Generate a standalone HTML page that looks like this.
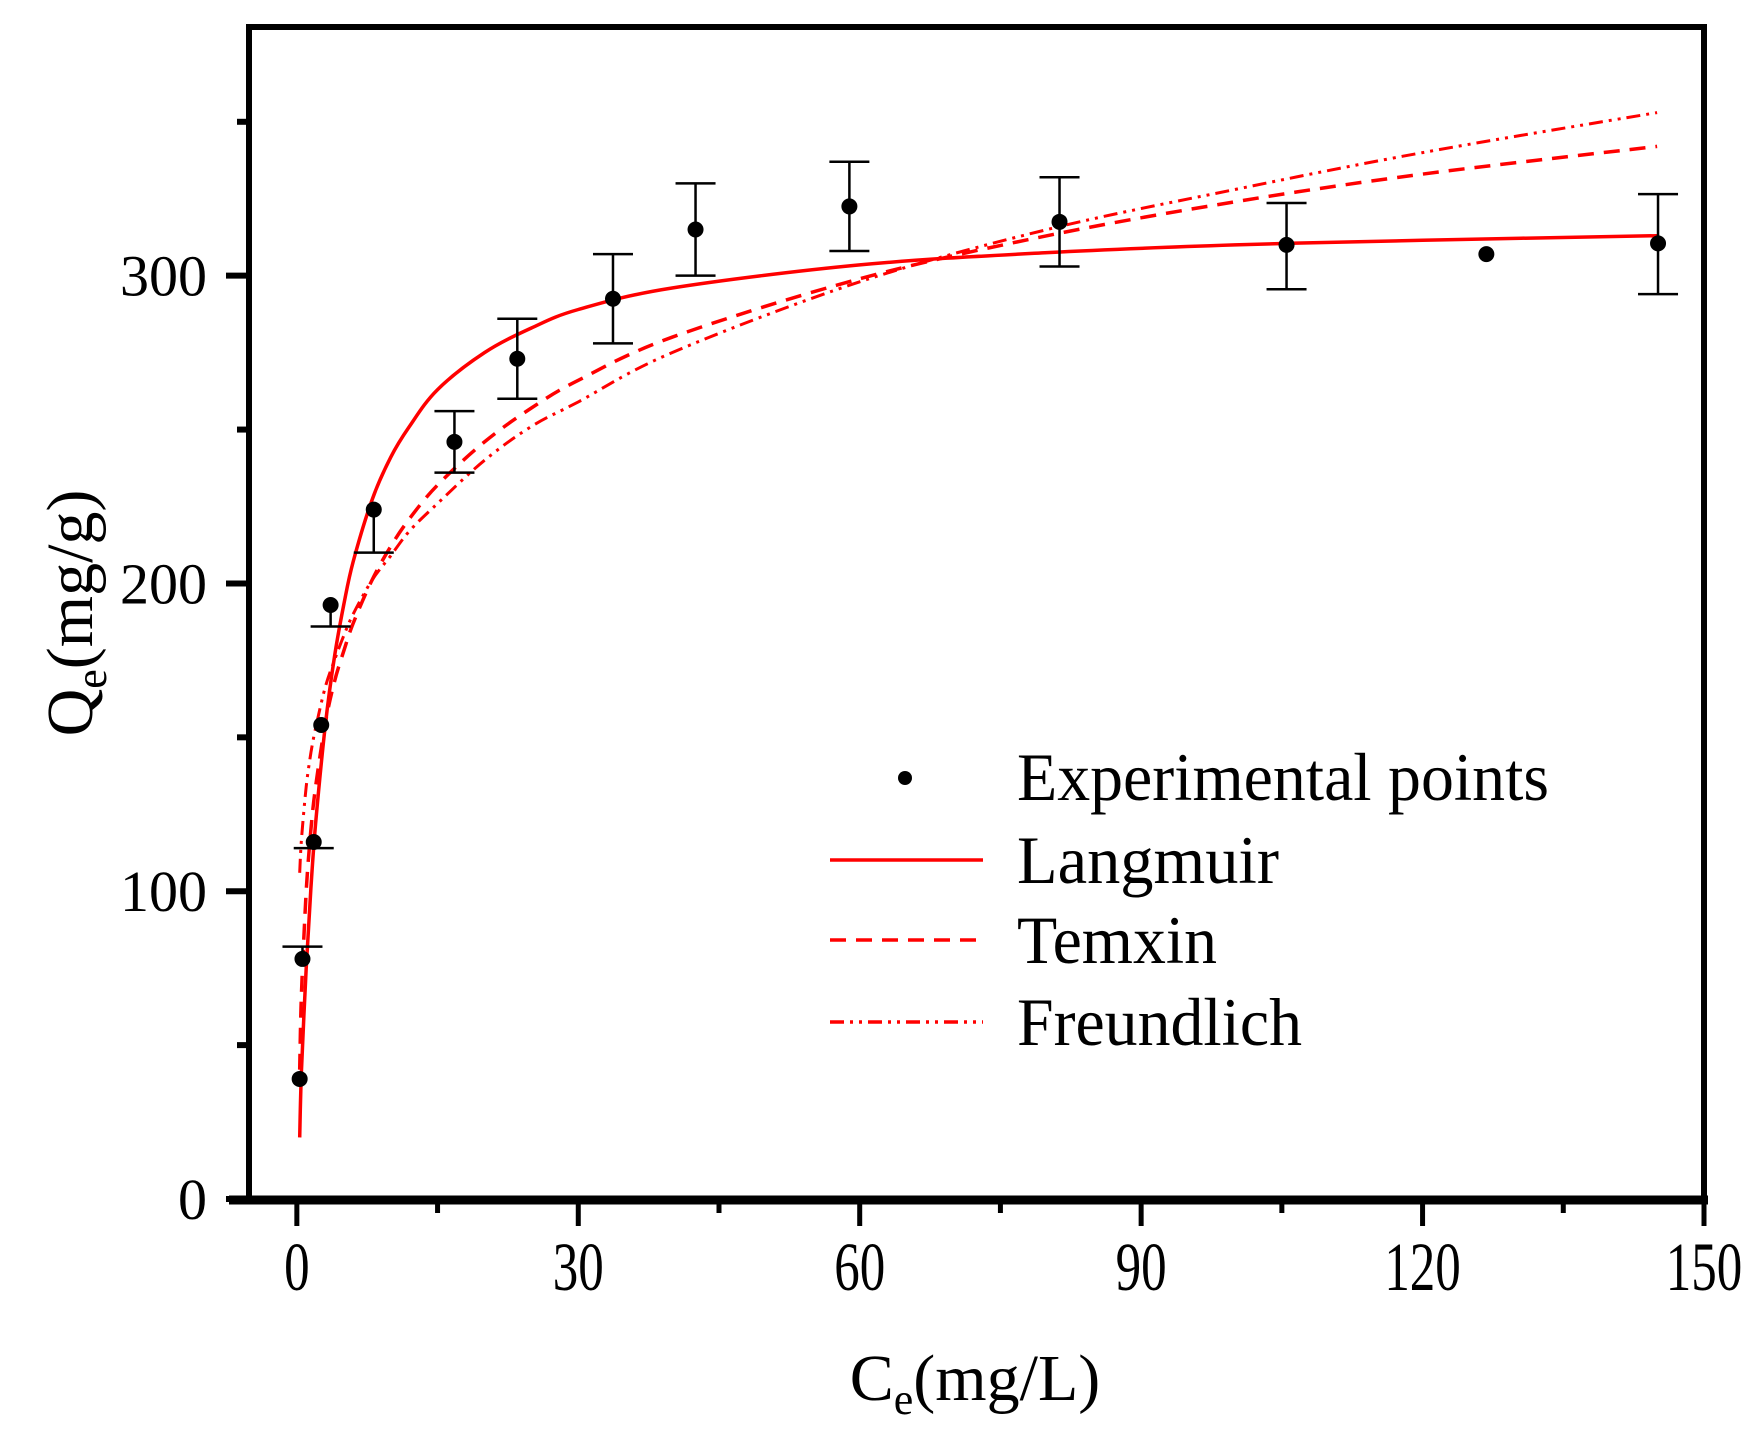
<!DOCTYPE html>
<html><head><meta charset="utf-8"><style>
html,body{margin:0;padding:0;background:#fff;}
svg{display:block;font-family:"Liberation Serif",serif;}
</style></head><body>
<svg id="chart" width="1757" height="1437" viewBox="0 0 1757 1437" xmlns="http://www.w3.org/2000/svg">
<rect width="1757" height="1437" fill="#fff"/>
<g id="plot"></g>
</svg>
<script>
// Experimental data
const ptX = [0.3, 0.6, 1.8, 2.6, 3.6, 8.2, 16.8, 23.5, 33.7, 42.5, 58.9, 81.3, 105.5, 126.8, 145.1];
const ptY = [39, 78, 116, 154, 193, 224, 246, 273, 292.5, 315, 322.5, 317.5, 310, 307, 310.5];
const errHi = [0, 82, 114, 0, 186, 0, 256, 286, 307, 330, 337, 332, 323.6, 0, 326.5];
const errLo = [0, 0, 0, 0, 0, 210, 236, 260, 278, 300, 308, 303, 295.6, 0, 294];
// Fitted curves sampled
const curveX = [0.3,0.5,1,1.5,2,3,4,5,6,8,10,12,15,20,25,30,40,60,80,100,120,145];
const langY = [20,42,75,101,122,153,176,193,207,227,241,251,263,275,283,289,296,303.5,307.5,310,311.5,313];
const temY = [42,67,100,120,134,154,168,178,187,201,212,221,232,246,257,266,280,299,313,324,333,342];
const freY = [106,117,134,145,153,166,175,183,190,201,209,217,226,240,251,259,275,298,315,328,340,353];
const xTicks = [0,30,60,90,120,150];
const xMinor = [15,45,75,105,135];
const yTicks = [0,100,200,300];
const yMinor = [50,150,250,350];

const L=249,R=1704,T=27,B=1199;
const X0=-5.1,X1=150,Y0=0,Y1=380.8;
const sx=v=>L+(v-X0)/(X1-X0)*(R-L);
const sy=v=>B-(v-Y0)/(Y1-Y0)*(B-T);
const NS='http://www.w3.org/2000/svg';
const g=document.getElementById('plot');
function mk(tag,attrs,parent){const e=document.createElementNS(NS,tag);for(const k in attrs)e.setAttribute(k,attrs[k]);(parent||g).appendChild(e);return e;}

let fr=mk('rect',{x:L,y:T,width:R-L,height:B-T,fill:'none',stroke:'#000','stroke-width':6});


let bx=mk('line',{x1:L-20,x2:R+4,y1:B+1,y2:B+1,stroke:'#000','stroke-width':9});



xTicks.forEach(v=>{
  let t=mk('line',{x1:sx(v),x2:sx(v),y1:B,y2:B+27,stroke:'#000','stroke-width':5});
  
  
  let s=mk('text',{x:sx(v)/0.85,y:0,'font-size':60,'text-anchor':'middle',transform:'translate(0,1290) scale(0.85,1.15)'});
  s.textContent=v;
  
  
});
xMinor.forEach(v=>{
  let t=mk('line',{x1:sx(v),x2:sx(v),y1:B,y2:B+14,stroke:'#000','stroke-width':5});
  
  
});
yTicks.forEach(v=>{
  let t=mk('line',{x1:L-23,x2:L,y1:sy(v),y2:sy(v),stroke:'#000','stroke-width':6});
  
  
  let s=mk('text',{x:207,y:sy(v)+20,'font-size':58,'text-anchor':'end'});
  s.textContent=v;
  
  
});
yMinor.forEach(v=>{
  let t=mk('line',{x1:L-12,x2:L,y1:sy(v),y2:sy(v),stroke:'#000','stroke-width':6});
  
  
});

let xt=mk('text',{x:975,y:1400,'font-size':66,'text-anchor':'middle'});
xt.innerHTML='C<tspan font-size="44" dy="14">e</tspan><tspan dy="-14">(mg/L)</tspan>';


let yt=mk('text',{x:0,y:0,'font-size':66,'text-anchor':'middle',transform:'translate(92,613) rotate(-90)'});
yt.innerHTML='Q<tspan font-size="44" dy="14">e</tspan><tspan dy="-14">(mg/g)</tspan>';



function path(ys){
  const p=curveX.map((x,i)=>[sx(x),sy(ys[i])]);
  let d='M'+p[0][0].toFixed(1)+','+p[0][1].toFixed(1);
  for(let i=0;i<p.length-1;i++){
    const p0=p[i-1]||p[i],p1=p[i],p2=p[i+1],p3=p[i+2]||p2;
    const c1=[p1[0]+(p2[0]-p0[0])/6,p1[1]+(p2[1]-p0[1])/6];
    const c2=[p2[0]-(p3[0]-p1[0])/6,p2[1]-(p3[1]-p1[1])/6];
    d+=' C'+c1.map(n=>n.toFixed(1))+' '+c2.map(n=>n.toFixed(1))+' '+p2.map(n=>n.toFixed(1));
  }
  return d;
}
let c1=mk('path',{d:path(langY),fill:'none',stroke:'#f00','stroke-width':3.5});


let c2=mk('path',{d:path(temY),fill:'none',stroke:'#f00','stroke-width':3.5,'stroke-dasharray':'16 10'});


let c3=mk('path',{d:path(freY),fill:'none',stroke:'#f00','stroke-width':3,'stroke-dasharray':'14 6 3 6 3 6'});



ptX.forEach((x,i)=>{
  const cx=sx(x);
  if(errHi[i]||errLo[i]){
    const hi=errHi[i]||ptY[i], lo=errLo[i]||ptY[i];
    let e=mk('line',{x1:cx,x2:cx,y1:sy(hi),y2:sy(lo),stroke:'#000','stroke-width':2.5});
    
    
    if(errHi[i]){let c=mk('line',{x1:cx-20,x2:cx+20,y1:sy(hi),y2:sy(hi),stroke:'#000','stroke-width':2.5});
      
      }
    if(errLo[i]){let c=mk('line',{x1:cx-20,x2:cx+20,y1:sy(lo),y2:sy(lo),stroke:'#000','stroke-width':2.5});
      
      }
  }
  let d=mk('circle',{cx:cx,cy:sy(ptY[i]),r:8,fill:'#000'});
  
  
});

const lg=mk('g',{});


let ld=mk('circle',{cx:905,cy:778,r:7,fill:'#000'},lg);


const items=[['Experimental points',800,null,532],['Langmuir',883,'none',262],['Temxin',963,'16 10',200],['Freundlich',1045,'14 6 3 6 3 6',285]];
items.forEach((it,i)=>{
  if(i>0){let l=mk('line',{x1:830,x2:983,y1:it[1]-23,y2:it[1]-23,stroke:'#f00','stroke-width':3.5,'stroke-dasharray':it[2]},lg);
    
    }
  let t=mk('text',{x:1017,y:it[1],'font-size':68,textLength:it[3],lengthAdjust:'spacingAndGlyphs'},lg);
  t.textContent=it[0];
  
  
});
</script>
</body></html>
